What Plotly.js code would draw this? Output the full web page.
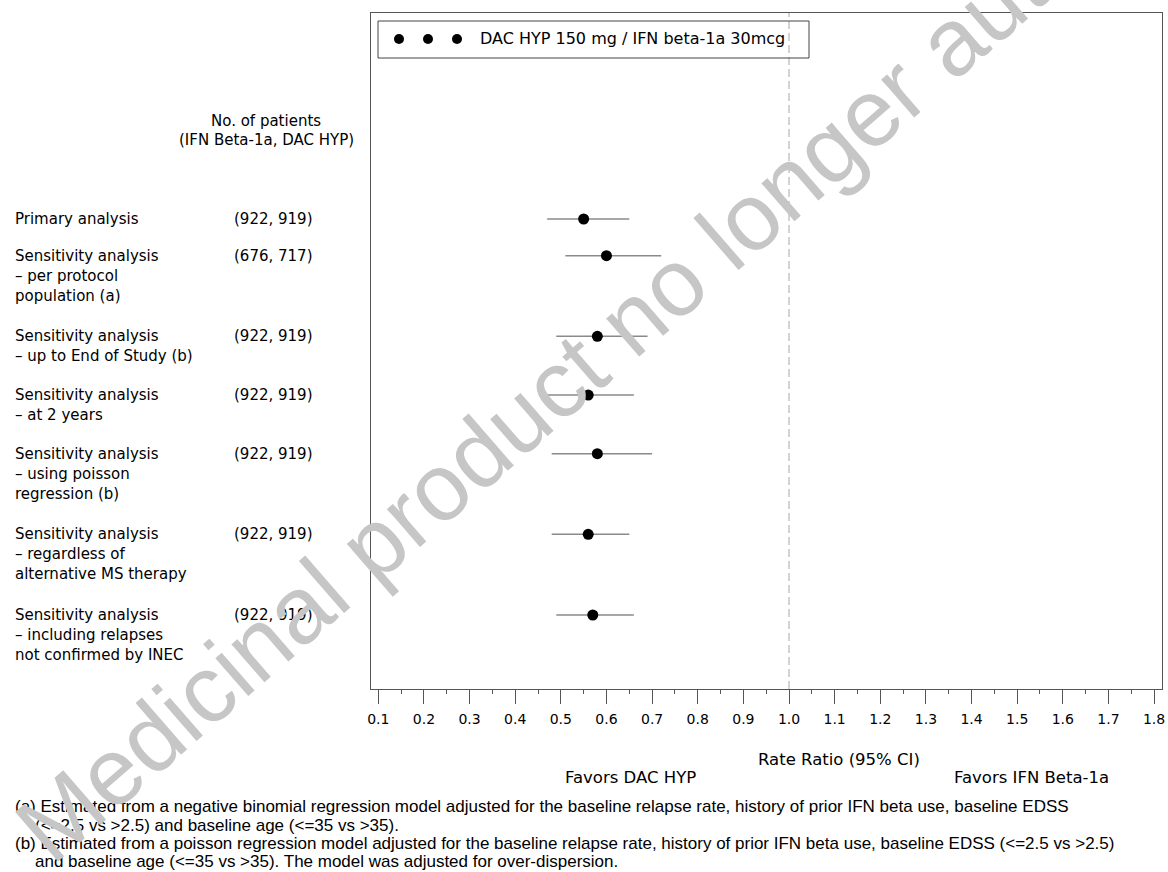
<!DOCTYPE html>
<html><head><meta charset="utf-8">
<script src="https://cdn.plot.ly/plotly-3.0.1.min.js"></script>
<style>html,body{margin:0;padding:0;background:#fff}#chart{width:1168px;height:872px}</style>
</head><body><div id="chart"></div>
<script>
// ---- data ----
const rowLabels = [
  "Primary analysis",
  "Sensitivity analysis\n– per protocol\npopulation (a)",
  "Sensitivity analysis\n– up to End of Study (b)",
  "Sensitivity analysis\n– at 2 years",
  "Sensitivity analysis\n– using poisson\nregression (b)",
  "Sensitivity analysis\n– regardless of\nalternative MS therapy",
  "Sensitivity analysis\n– including relapses\nnot confirmed by INEC"
];
const patientCounts = ["(922, 919)", "(676, 717)", "(922, 919)", "(922, 919)", "(922, 919)", "(922, 919)", "(922, 919)"];
const rateRatio = [0.55, 0.60, 0.58, 0.56, 0.58, 0.56, 0.57];
const ciLower   = [0.47, 0.51, 0.49, 0.47, 0.48, 0.48, 0.49];
const ciUpper   = [0.65, 0.72, 0.69, 0.66, 0.70, 0.65, 0.66];
const xTickVals = [0.1,0.2,0.3,0.4,0.5,0.6,0.7,0.8,0.9,1.0,1.1,1.2,1.3,1.4,1.5,1.6,1.7,1.8];
const legendLabel = "DAC HYP 150 mg / IFN beta-1a 30mcg";
const headerLines = ["No. of patients", "(IFN Beta-1a, DAC HYP)"];
const xAxisTitle = "Rate Ratio (95% CI)";
const favorsLeft = "Favors DAC HYP";
const favorsRight = "Favors IFN Beta-1a";
const footnotes = [
  "(a) Estimated from a negative binomial regression model adjusted for the baseline relapse rate, history of prior IFN beta use, baseline EDSS",
  "(<=2.5 vs >2.5) and baseline age (<=35 vs >35).",
  "(b) Estimated from a poisson regression model adjusted for the baseline relapse rate, history of prior IFN beta use, baseline EDSS (<=2.5 vs >2.5)",
  "and baseline age (<=35 vs >35). The model was adjusted for over-dispersion."
];
const watermark = "Medicinal product no longer authorised";

// ---- layout helpers (pixel -> paper) ----
const L = 371, T = 13, W = 791, H = 676;
const px = v => (v - L) / W;
const py = v => (T + H - v) / H;
const ROW_GAP = 0.67;      // vertical gap between rows, in row units
const LINE_PX = 20;        // label line spacing
const FONT = "DejaVu Sans, Verdana, sans-serif";
const FONT2 = "Liberation Sans, Arial, sans-serif";

const lineCounts = rowLabels.map(s => s.split("\n").length);
const ypos = [];
let acc = 0;
lineCounts.forEach(n => { ypos.push(acc); acc += n + ROW_GAP; });

const trace = {
  type: "scatter", mode: "markers",
  x: rateRatio, y: ypos,
  marker: {color: "#000", size: 11},
  error_x: {
    type: "data", symmetric: false,
    array: ciUpper.map((u, i) => u - rateRatio[i]),
    arrayminus: rateRatio.map((r, i) => r - ciLower[i]),
    color: "#8a8a8a", thickness: 1.5, width: 0
  },
  showlegend: false, hoverinfo: "skip"
};

const ann = [];
rowLabels.forEach((lab, i) => {
  lab.split("\n").forEach((line, k) => {
    ann.push({xref: "paper", yref: "y", x: px(13), y: ypos[i], yshift: -k * LINE_PX,
      xanchor: "left", yanchor: "middle", showarrow: false, text: line,
      font: {family: FONT, size: 15, color: "#000"}});
  });
  ann.push({xref: "paper", yref: "y", x: px(232), y: ypos[i], xanchor: "left", yanchor: "middle",
    showarrow: false, text: patientCounts[i], font: {family: FONT, size: 15, color: "#000"}});
});
headerLines.forEach((t, k) => {
  ann.push({xref: "paper", yref: "paper", x: px(266), y: py(121 + k * 19), xanchor: "center", yanchor: "middle",
    showarrow: false, text: t, font: {family: FONT, size: 15, color: "#000"}});
});
ann.push({xref: "paper", yref: "paper", x: px(478), y: py(39), xanchor: "left", yanchor: "middle",
  showarrow: false, text: legendLabel, font: {family: FONT, size: 16, color: "#000"}});
ann.push({xref: "paper", yref: "paper", x: px(839), y: py(759), xanchor: "center", yanchor: "middle",
  showarrow: false, text: xAxisTitle, font: {family: FONT, size: 16.5, color: "#000"}});
ann.push({xref: "paper", yref: "paper", x: px(630), y: py(777), xanchor: "center", yanchor: "middle",
  showarrow: false, text: favorsLeft, font: {family: FONT, size: 16.5, color: "#000"}});
ann.push({xref: "paper", yref: "paper", x: px(1031), y: py(777), xanchor: "center", yanchor: "middle",
  showarrow: false, text: favorsRight, font: {family: FONT, size: 16.5, color: "#000"}});
const fnX = [13, 33, 13, 33], fnY = [807, 825, 843, 861];
footnotes.forEach((t, k) => {
  ann.push({xref: "paper", yref: "paper", x: px(fnX[k]), y: py(fnY[k]), xanchor: "left", yanchor: "middle",
    showarrow: false, text: t, font: {family: FONT2, size: 17, color: "#000"}});
});
ann.push({xref: "paper", yref: "paper", x: px(648), y: py(305), xanchor: "center", yanchor: "middle",
  showarrow: false, text: watermark, textangle: -41,
  font: {family: FONT2, size: 95, color: "#c6c6c6"}});

const shapes = [
  {type: "line", xref: "x", yref: "paper", x0: 1, x1: 1, y0: 0, y1: 1,
   line: {color: "#a8a8a8", width: 1, dash: "8px,4px"}, layer: "below"},
  {type: "rect", xref: "paper", yref: "paper", x0: px(378), x1: px(809), y0: py(58), y1: py(21),
   line: {color: "#444", width: 1}, fillcolor: "rgba(0,0,0,0)"}
];
[399, 428, 457].forEach(cx => {
  shapes.push({type: "circle", xref: "paper", yref: "paper", xsizemode: "pixel", ysizemode: "pixel",
    xanchor: px(cx), yanchor: py(39), x0: -5, x1: 5, y0: -5, y1: 5,
    fillcolor: "#000", line: {color: "#000", width: 0}});
});

const layout = {
  width: 1168, height: 872,
  margin: {l: L, r: 1168 - L - W, t: T, b: 872 - T - H, pad: 0},
  paper_bgcolor: "#fff", plot_bgcolor: "#fff",
  showlegend: false,
  xaxis: {
    range: [0.084, 1.8174], tickvals: xTickVals, ticktext: xTickVals.map(v => v.toFixed(1)),
    ticks: "outside", ticklen: 14, tickwidth: 1, tickcolor: "#555", ticklabelstandoff: 3,
    minor: {tick0: 0.15, dtick: 0.1, ticks: "outside", ticklen: 4, tickwidth: 1, tickcolor: "#555", showgrid: false},
    showline: true, linecolor: "#555", linewidth: 1, mirror: true,
    showgrid: false, zeroline: false,
    tickfont: {family: FONT, size: 14, color: "#000"}
  },
  yaxis: {
    range: [21.388, -9.374], showline: true, linecolor: "#555", linewidth: 1, mirror: true,
    ticks: "", showticklabels: false, showgrid: false, zeroline: false
  },
  shapes: shapes,
  annotations: ann
};
Plotly.newPlot("chart", [trace], layout, {displayModeBar: false, staticPlot: true});
</script>
</body></html>
